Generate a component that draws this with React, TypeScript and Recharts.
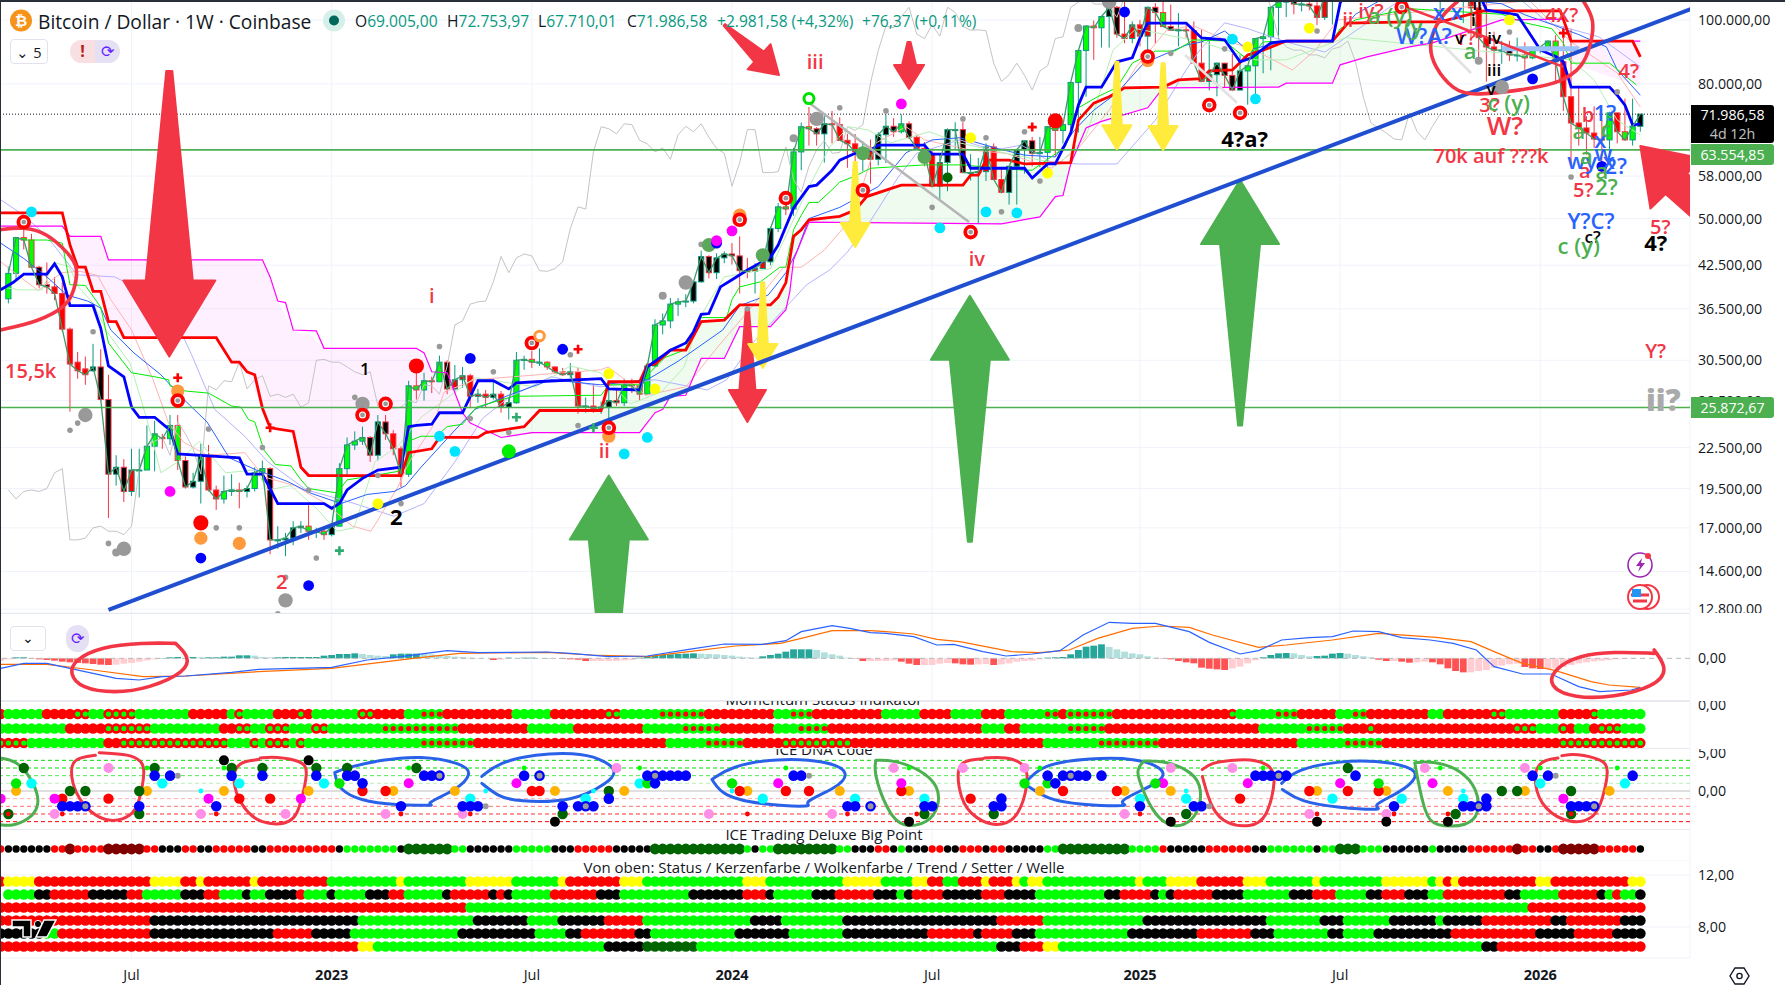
import React from 'react';
import {
  ComposedChart,
  Bar,
  Line,
  Area,
  Scatter,
  XAxis,
  YAxis,
  CartesianGrid,
  ReferenceLine
} from 'recharts';

// weekly candles in thousand dollars, index 0 is the week of 14 Mar 2022
const opens = [37.8,41.3,46.8,46.4,42.2,39.7,39.4,38.5,34.0,30.3,29.6,29.4,29.8,26.6,20.5,21.0,19.3,20.8,20.8,22.6,23.3,23.2,24.3,21.5,19.6,20.0,21.8,19.4,18.8,19.3,19.4,19.3,19.5,20.6,20.9,16.3,16.3,16.4,17.0,17.1,16.8,16.8,16.6,17.1,20.9,22.7,23.0,23.3,21.9,24.6,23.6,22.4,20.5,27.9,27.5,28.4,28.3,30.3,27.6,28.5,28.9,26.9,27.1,26.8,27.1,25.9,26.3,30.5,30.6,30.3,30.3,29.8,29.3,29.0,29.3,26.0,26.0,25.8,25.9,26.5,26.3,28.0,27.9,27.1,29.9,34.5,35.0,37.1,37.4,37.5,40.1,43.8,41.4,43.6,44.2,43.9,41.7,41.6,42.0,43.0,48.3,52.1,51.7,63.1,68.9,68.4,67.2,69.6,69.4,65.7,64.9,63.1,64.0,61.5,67.0,69.0,67.7,69.6,66.4,63.9,62.8,56.0,60.8,68.2,68.2,58.7,58.7,58.9,64.2,57.3,54.8,60.0,63.6,65.6,62.8,63.0,68.9,68.0,69.4,80.4,89.9,97.9,97.3,101.2,104.5,95.2,93.7,98.3,94.5,104.5,102.6,97.7,96.5,96.6,96.3,86.0,80.7,82.6,86.0,82.4,78.3,83.7,85.2,93.7,94.3,104.5,106.4,109.0,105.7,105.7,105.0,100.9,108.3,109.0,119.0,117.3,117.8,119.3,114.0,119.0,117.4,113.5,108.3,111.0,115.9,115.3,109.6,123.5,115.0,108.6,114.5,104.3,94.0,91.0,90.0,90.0,88.5,88.5,87.6,90.4,91.0,92.9,86.4,76.5,69.8,68.6,67.4,66.0,65.8,72.3,67.7,65.8,69.0];
const closes = [41.3,46.8,46.4,42.2,39.7,39.4,38.5,34.0,30.1,29.4,29.0,29.8,26.6,20.5,21.0,19.3,20.8,20.8,22.6,23.6,23.2,24.3,21.5,19.6,20.0,21.8,19.4,18.8,19.3,19.4,19.3,19.5,20.6,20.9,16.3,16.3,16.4,17.0,17.1,16.8,16.8,16.6,17.1,20.9,22.7,23.0,23.3,21.9,24.6,23.6,22.4,20.5,27.9,27.5,28.4,28.3,30.3,27.6,28.5,28.9,26.9,27.1,26.8,27.1,25.9,26.3,30.5,30.6,30.3,30.3,29.8,29.3,29.0,29.3,26.0,26.0,25.8,25.9,26.5,26.3,28.0,27.9,27.1,29.9,34.5,35.0,37.1,37.4,37.5,40.1,43.8,41.4,43.6,44.2,43.9,41.7,41.6,42.0,43.0,48.3,52.1,51.7,63.1,68.9,68.4,67.2,69.6,69.4,65.7,64.9,63.1,64.0,61.5,67.0,69.0,67.7,69.6,66.4,63.9,62.8,56.0,60.8,68.2,68.2,58.7,58.7,58.9,64.2,57.3,54.8,60.0,63.6,65.6,62.8,63.0,68.9,68.0,69.4,80.4,89.9,97.9,97.3,101.2,104.5,95.2,93.7,98.3,94.5,104.5,102.6,97.7,96.5,96.6,96.3,86.0,80.7,82.6,86.0,82.4,78.3,83.7,85.2,93.7,94.3,104.5,106.4,109.0,105.7,105.7,105.0,100.9,108.3,109.0,119.0,117.3,117.8,119.3,114.0,119.0,117.4,113.5,108.3,111.0,115.9,115.3,109.6,123.5,115.0,108.6,114.5,104.3,94.0,91.0,90.0,90.0,88.5,88.5,87.6,90.4,91.0,92.9,86.4,76.5,69.8,68.6,67.4,66.0,65.8,72.3,67.7,65.8,69.0,71.99];
const highs = [42.3,46.9,48.2,47.4,42.4,42.9,40.8,40.0,34.2,31.4,30.9,32.3,31.7,29.0,21.9,21.6,22.4,22.4,24.3,24.7,23.6,25.2,25.2,21.8,20.6,22.8,22.7,19.7,20.4,20.5,19.9,19.7,21.0,21.5,21.0,17.1,16.7,17.4,17.4,18.4,17.0,16.9,17.2,21.3,23.3,23.8,24.2,23.4,25.2,25.2,23.9,22.6,28.4,29.2,29.2,28.8,31.0,30.5,30.0,29.8,29.1,27.6,27.5,28.4,27.4,26.8,31.4,31.0,31.5,31.8,30.4,29.9,29.7,30.2,29.7,26.8,28.1,26.4,27.5,27.5,28.6,28.6,28.3,30.2,35.2,35.9,37.9,37.9,38.4,40.2,44.7,44.0,44.3,44.6,45.9,47.0,43.6,42.8,43.8,48.6,52.8,52.9,64.0,69.9,73.8,68.8,71.8,72.8,71.2,67.2,67.2,65.5,65.9,67.6,71.9,71.0,71.9,70.2,67.0,65.3,63.5,62.8,68.5,70.0,70.0,62.6,61.8,65.0,65.0,59.8,58.2,60.7,64.5,66.5,66.5,64.5,69.4,70.0,73.5,81.5,93.4,99.8,98.5,104.0,105.0,108.3,99.5,99.9,102.7,106.0,109.5,105.5,102.4,98.8,99.5,96.8,94.0,84.5,85.4,88.8,88.5,84.0,83.7,86.5,95.0,95.6,104.8,107.0,110.0,108.0,106.5,108.5,106.0,108.5,110.0,120.0,120.0,119.7,120.0,119.5,124.0,118.0,114.0,113.3,113.5,116.5,117.9,113.0,126.2,116.0,114.0,116.0,108.0,96.0,93.0,93.0,94.0,92.5,90.0,90.2,91.5,94.8,97.8,97.0,79.5,71.5,74.0,70.5,72.0,66.8,76.0,76.0,71.5,70.0,72.75];
const lows = [37.2,40.5,44.9,42.1,39.2,38.5,37.6,33.7,25.5,28.6,28.0,29.3,26.5,17.6,19.7,18.6,19.0,18.9,20.8,20.7,22.4,22.7,20.8,19.5,19.5,18.5,19.3,18.1,18.5,19.0,18.2,18.9,19.3,20.0,15.5,15.8,15.4,16.0,16.7,16.3,16.4,16.3,16.5,17.1,20.4,22.3,22.7,21.4,21.5,23.1,21.9,19.6,20.3,26.6,26.5,27.2,28.3,27.1,27.2,27.7,25.8,26.3,25.9,26.6,25.4,24.8,26.2,29.5,29.7,29.9,29.5,29.1,28.9,28.7,25.3,25.4,25.4,25.3,24.9,26.0,26.0,27.2,26.5,27.1,29.8,33.4,34.1,35.6,36.7,37.2,40.0,40.6,40.5,42.8,42.6,38.5,40.6,38.5,41.9,42.5,47.7,50.6,50.5,59.2,64.5,64.5,60.8,65.0,67.4,59.7,60.5,59.0,56.5,60.2,60.7,66.5,67.3,66.0,64.0,60.0,58.5,53.5,55.0,63.5,65.5,57.1,49.1,57.0,57.8,57.0,52.5,52.5,58.5,60.0,59.8,58.9,62.0,65.0,66.8,67.5,76.5,87.0,90.8,90.8,94.0,92.2,92.2,91.2,89.2,92.0,98.0,97.7,91.2,94.0,93.3,94.8,78.2,76.6,79.0,82.0,81.7,74.4,74.6,83.0,83.9,93.6,101.0,102.0,103.0,103.4,98.2,100.0,98.4,107.0,116.0,114.6,112.0,112.0,107.3,110.5,107.3,107.3,107.5,107.5,111.5,108.7,102.0,106.5,105.5,98.9,93.0,86.0,80.6,84.0,85.8,86.6,86.5,84.0,87.2,89.0,91.0,80.0,72.8,60.0,64.5,62.5,64.0,58.5,62.5,65.0,65.7,64.5,67.71];

// colour runs, [first week, colour], each run ends where the next starts
const candleColorRuns = [[0,'G'],[1,'G'],[4,'K'],[6,'R'],[11,'K'],[16,'R'],[18,'G'],[23,'K'],[26,'R'],[28,'G'],[31,'K'],[32,'G'],[34,'K'],[38,'R'],[39,'G'],[42,'K'],[43,'G'],[47,'K'],[50,'R'],[52,'G'],[57,'K'],[58,'R'],[63,'K'],[64,'R'],[65,'K'],[66,'G'],[71,'R'],[77,'K'],[80,'G'],[89,'K'],[96,'R'],[99,'K'],[100,'G'],[105,'K'],[108,'R'],[113,'K'],[116,'G'],[117,'K'],[118,'R'],[122,'K'],[127,'R'],[130,'K'],[134,'G'],[143,'K'],[145,'R'],[149,'K'],[150,'G'],[151,'K'],[152,'R'],[157,'K'],[161,'G'],[167,'K'],[170,'R'],[173,'G'],[177,'K'],[179,'R'],[182,'K'],[185,'G'],[187,'R'],[195,'K'],[197,'G'],[202,'R'],[207,'K'],[208,'G'],[209,'R'],[210,'G'],[212,'K']];
const statusRuns = [[-1,'R'],[0,'G'],[5,'R'],[9,'a'],[11,'G'],[13,'a'],[17,'G'],[24,'R'],[29,'G'],[30,'a'],[31,'G'],[35,'R'],[38,'a'],[39,'R'],[40,'G'],[46,'a'],[48,'R'],[52,'G'],[54,'b'],[57,'R'],[66,'G'],[71,'R'],[78,'a'],[80,'G'],[85,'b'],[91,'R'],[100,'G'],[102,'b'],[105,'R'],[114,'G'],[119,'R'],[123,'G'],[127,'R'],[130,'G'],[135,'b'],[137,'R'],[138,'b'],[144,'R'],[159,'a'],[160,'G'],[165,'b'],[168,'R'],[173,'G'],[175,'b'],[177,'R'],[185,'G'],[187,'R'],[193,'a'],[195,'G'],[202,'R'],[206,'a'],[207,'G']];
const momentumRuns = [[-1,'G'],[8,'R'],[13,'a'],[19,'G'],[28,'R'],[30,'a'],[32,'G'],[34,'a'],[37,'G'],[40,'a'],[42,'G'],[49,'b'],[59,'R'],[68,'G'],[74,'R'],[83,'G'],[88,'b'],[93,'R'],[100,'G'],[103,'b'],[107,'R'],[127,'G'],[130,'R'],[132,'G'],[138,'b'],[143,'R'],[163,'G'],[169,'b'],[174,'R'],[177,'a'],[178,'R'],[196,'a'],[199,'G'],[202,'a'],[203,'R'],[204,'G'],[206,'R'],[207,'a'],[210,'G']];
const trendRuns3 = [[-1,'a'],[3,'G'],[13,'R'],[15,'a'],[29,'G'],[32,'a'],[33,'G'],[34,'a'],[37,'G'],[38,'a'],[39,'G'],[54,'b'],[61,'R'],[86,'G'],[91,'b'],[96,'R'],[101,'a'],[110,'R'],[135,'G'],[142,'b'],[150,'R'],[168,'G'],[174,'b'],[179,'R'],[202,'a']];
const bigPointRuns = [[-1,'R'],[0,'K'],[6,'R'],[8,'M'],[9,'R'],[13,'M'],[18,'R'],[20,'K'],[23,'R'],[25,'K'],[27,'R'],[32,'K'],[34,'R'],[43,'K'],[44,'G'],[51,'K'],[52,'D'],[58,'G'],[60,'K'],[66,'G'],[71,'K'],[74,'R'],[79,'K'],[84,'D'],[96,'G'],[97,'K'],[98,'G'],[100,'D'],[108,'G'],[110,'K'],[113,'R'],[115,'K'],[116,'G'],[117,'K'],[120,'R'],[122,'K'],[124,'R'],[127,'K'],[128,'R'],[130,'K'],[135,'G'],[137,'D'],[146,'G'],[150,'R'],[151,'K'],[156,'R'],[162,'K'],[164,'G'],[170,'K'],[171,'G'],[173,'D'],[176,'G'],[179,'K'],[185,'G'],[186,'K'],[190,'R'],[196,'M'],[197,'R'],[199,'K'],[201,'R'],[202,'M'],[207,'R'],[212,'K']];
const lowerRow1 = [[-1,'R'],[0,'Y'],[4,'R'],[19,'Y'],[23,'R'],[25,'Y'],[26,'R'],[32,'Y'],[33,'R'],[42,'G'],[51,'Y'],[52,'G'],[60,'Y'],[66,'G'],[72,'Y'],[73,'R'],[80,'Y'],[83,'G'],[96,'Y'],[99,'G'],[109,'Y'],[114,'G'],[118,'Y'],[120,'R'],[122,'G'],[124,'R'],[127,'Y'],[128,'R'],[131,'Y'],[132,'G'],[133,'Y'],[135,'G'],[147,'Y'],[148,'G'],[151,'Y'],[155,'R'],[161,'Y'],[164,'G'],[170,'Y'],[171,'G'],[179,'Y'],[185,'G'],[186,'Y'],[187,'R'],[188,'Y'],[189,'R'],[199,'Y'],[201,'R'],[211,'Y']];
const lowerRow3 = [[-1,'R'],[60,'G'],[198,'R']];
const lowerRow4 = [[-1,'R'],[19,'K'],[46,'G'],[61,'K'],[68,'G'],[72,'K'],[78,'R'],[83,'G'],[97,'K'],[101,'G'],[109,'K'],[129,'R'],[135,'G'],[148,'K'],[164,'G'],[171,'K'],[174,'G'],[180,'K'],[186,'G'],[187,'K'],[192,'R'],[201,'K'],[203,'R'],[210,'K']];
const lowerRow5 = [[-1,'K'],[5,'G'],[7,'R'],[19,'K'],[35,'R'],[40,'K'],[45,'G'],[59,'K'],[69,'G'],[73,'K'],[75,'R'],[82,'K'],[84,'G'],[95,'K'],[102,'G'],[109,'K'],[120,'R'],[126,'K'],[127,'R'],[131,'K'],[134,'G'],[146,'K'],[155,'R'],[162,'K'],[165,'G'],[172,'K'],[174,'G'],[178,'K'],[188,'R'],[199,'K'],[204,'R'],[209,'K']];
const lowerRow6 = [[-1,'R'],[46,'Y'],[48,'G'],[78,'K'],[83,'D'],[90,'G'],[129,'K'],[132,'R'],[135,'Y'],[137,'G'],[192,'K'],[194,'R']];

// indicator vertices as [week, price in thousands]
const tenkan = [[-1,39],[0.6,40],[2,41.2],[5,41.2],[6,42.7],[7,40.8],[8,36.9],[11,36.9],[12,34.1],[13,29.9],[15,28.8],[16,25.9],[17,25],[19,25],[21,23.9],[22,22],[30,21.7],[31,20.5],[33,20.5],[35,18.5],[41,18.5],[42,18.2],[43,18.5],[44,19.4],[46,20.2],[48,20.8],[51,21],[52,24.2],[53,24.3],[55,24.4],[56,25.4],[59,25.4],[60,26.9],[61,28.4],[63,28.4],[65,27.6],[66,28.2],[68.5,28.3],[77,28.6],[78,27.6],[82,27.5],[83,29.8],[86,31.6],[88,32.4],[89,33.7],[90,35.8],[91,35.9],[92.5,39.4],[94,40.4],[96,41.8],[99,43.7],[100,45.6],[102,51.9],[104,55.9],[105,56.2],[107,59.2],[108,61.3],[110,62.8],[112,63.5],[113,64.6],[119,64.6],[120,62.6],[124,62.6],[125,59.6],[132,59.6],[133,57.6],[135,60.5],[136,60.5],[138,67.4],[139,74.3],[140,79.1],[142,79.1],[144,86.4],[146,87.6],[147,93.9],[148,98.9],[153,98.9],[155,93.9],[158,93.3],[160,86.4],[161.5,87.6],[164,92.3],[166,92.9],[172,92.9],[173,106],[175,120],[190,118],[191,110],[192,103.5],[196,101.8],[198,93.9],[199,90.1],[200,89],[201,88],[202,86.4],[203,79.1],[208,79.1],[209,76.9],[210,74.3],[211,69.3],[212,69.6]];
const kijun = [[-1,51],[7,51],[8,45.6],[9,42.2],[10,42.2],[11,38.8],[12,38.8],[13,34.9],[14,34.9],[15,33],[27,33],[29,30.3],[30,30.3],[31,29.3],[32,29],[33,25.8],[34,24.1],[37,23.8],[38,21],[39,20.4],[51,20.4],[52,22.1],[55,22.4],[56,23.3],[61,23.3],[62,23.7],[67,24.2],[69,25.6],[77,25.6],[78,28.3],[82,28.3],[83,30],[84,30.1],[86,31.6],[88,31.6],[90,34.9],[93,35.1],[95,37],[99,37],[100,38],[101,40],[102,47],[103,48.1],[104,49.8],[108,50.4],[110,51.5],[111.5,54],[115,55.7],[116,56.2],[124,56.2],[125,58.2],[126,58.2],[127,61.3],[130,61.3],[132,60.5],[138,60.8],[139,70.5],[141,74.8],[143,76.5],[145,78.9],[150,79.1],[152,81.1],[155,81.5],[156,83.7],[159,84],[161,88.5],[163,90],[166,92.9],[172,92.9],[174,98.9],[182,99.3],[186,99.3],[191.6,103.2],[201.6,103.2],[203,92.9],[211,92.9],[212,87.9]];
const senkouB = [[-1,48.7],[7,48.7],[8,47],[12,47],[13,43.3],[33,43.3],[34,40.8],[35,37.5],[36,37.3],[37,33.9],[40,33.8],[41,31.8],[53,31.8],[54,31.3],[55,29.3],[57,29.2],[59,25.4],[60,24.5],[62,23.9],[64,23.3],[68,23.7],[82,23.7],[84,25.4],[85,25.7],[86,26.9],[88,27],[90,30.7],[93,30.7],[95,34.3],[99,34.3],[101,36.4],[101.5,38.7],[102,43.3],[104,49.4],[129,49.1],[134,50.3],[136,54],[137,54.2],[138,60.5],[140,68.6],[142,70.2],[148,73.6],[150,78.9],[165,79.1],[166,80.2],[172,80.2],[173,85.5],[176.5,87.9],[182,91],[185,92.3],[194,100],[202,100.3],[203,92.9],[212,92.9]];
const greenLine = [[2,46.4],[5,46.4],[7,45.9],[8,39.7],[10,39.6],[12,36.7],[13,32.4],[16,29.2],[19,28.8],[20.8,28.5],[21,27.9],[23,27.4],[26,27.2],[29,26],[30.2,25.9],[31.2,24.8],[32,24.6],[33.2,22.3],[34.7,21.2],[36.7,21.1],[38,20.1],[39,19.5],[42.7,19.2],[44,20.1],[46.4,20.3],[50.6,20.7],[52,23],[53.6,23.4],[55.6,23.4],[57,24.2],[59,24.4],[60.8,25.9],[65.6,26.9],[77,27],[78,28],[82,28],[83.3,29.2],[85.3,30.8],[87.8,31.6],[90,35.4],[93.3,35.4],[94,37.7],[95,39.4],[97.7,40.1],[100.2,42.2],[101,42.2],[102,48.1],[103,50.6],[104,52.9],[105.2,52.9],[107,55.3],[108,56.8],[110,58],[112,59.6],[119,60.3],[124,60.3],[128.6,59.6],[132,59.2],[133,59.2],[137.3,64.2],[139,73.6],[141.5,76.5],[144,79],[146,86],[149,89.7],[151.5,89.7],[154,93.3],[158,92.9],[161,87],[163,92.6],[166,92.9],[172,92.9],[173,97],[175,100],[182,104],[194,102],[197,99],[200.5,97],[202,92.2],[203,86],[208,86],[211.5,79.7]];
const thinBlue = [[-1,45.9],[2,43.5],[5,40.8],[7.6,38.3],[10.3,37.5],[12,36.6],[13.3,33.9],[16.3,31.3],[19.8,29],[22.8,26.6],[25.8,24.6],[28.7,21.7],[32.2,20.8],[36.2,20],[39.2,19.2],[43.2,18.5],[46.6,19.1],[50.1,19.3],[51.6,19.7],[53.6,21],[58,23.9],[60.6,25.7],[65,27],[70.5,28.5],[76.9,28],[83,28.5],[87,30.4],[92.8,33.9],[95,36.9],[98.7,38.3],[101,41.4],[102.5,44.8],[104,50],[108,52],[113,55.9],[116.6,62.9],[120,65.8],[123.6,66.3],[128.6,63.8],[132,62.4],[136,62],[138.5,68.1],[141,73],[144,77.5],[147.5,86],[153,91.6],[155,92.6],[158,96.2],[161,90],[166,92.9],[172,92.9],[175,102],[180,110],[194,105.8],[197,101.8],[201,98],[204,95],[207.6,91],[209,84],[212,76.9]];
const periwinkle = [[-1,53.4],[2,50.6],[5,47],[8.9,41.1],[13.8,40.8],[15.3,40],[18.8,37],[22.3,33.9],[23.8,31.1],[26.8,25.7],[30.7,23.4],[33.7,21.4],[38.7,19.4],[43.7,18.7],[50.1,17.7],[54,18.5],[58,21.4],[61.6,24.9],[65,26.8],[70.5,28.8],[76.9,27.8],[84,28.5],[90.8,27.5],[93.3,28.5],[96.7,32.4],[100.7,36.4],[103.7,39.7],[106.7,41.8],[109,44.5],[111.7,49],[115.6,57.8],[118,62.8],[123.6,65.8],[128,63.5],[131.6,64.6],[135.5,60.9],[139,60.5],[144,60.5],[149,70.5],[153,84],[154.8,90.1],[158,99],[161,97],[166,92.6],[171,89.4],[175.2,96.6],[180.7,107],[196.6,107],[200,99],[206.6,94.3],[212,84.9]];
const paleRed = [[-1,43],[2,40.4],[3.9,38.9],[6.9,41.4],[9.3,41.6],[11.6,41],[13.3,37.7],[16,33.9],[18.8,28.5],[20.8,24.5],[22.8,22.9],[25.8,21.9],[30.7,22.1],[33.2,20.3],[37.2,19.7],[41.2,18.5],[44.7,17.1],[47.1,16.8],[50.6,19.6],[52.1,21.4],[55.1,24.2],[56.6,27.3],[60.6,28.5],[76.9,29.5],[77.9,29.8],[82.8,27],[88,27.8],[91.8,31.6],[96.7,36.9],[100.7,42.2],[103,42.2],[106,44.8],[109.7,50.3],[112.7,65.1],[116.6,68.9],[119,65.8],[125,63.5],[129.6,62.8],[135.5,59.6],[139,63.9],[143,73],[146.5,84.9],[150.5,96.6],[154,98],[158,93.3],[161.8,90.1],[166.8,84],[169.8,90.1],[172.7,100],[197.6,107],[203,92.6],[209,83.1],[212,73.8]];
const paleGreen = [[-1,39.4],[1.4,39],[4.4,39],[5.9,42.9],[7.9,42.3],[9.1,39.4],[11,37.2],[12.8,33.7],[15.8,30.2],[18,24.8],[19.8,20.6],[22.3,21.5],[24.8,23],[28.2,20.6],[32.2,20.8],[33.7,19.4],[36.7,19.7],[40.2,18.1],[42.7,16.8],[44.9,17],[47.6,21.4],[50.6,22.6],[53.6,25],[60.6,28.7],[68.5,27.8],[73,29.9],[76.9,29.2],[80.8,26.2],[84.8,27.3],[87.8,29.8],[89.8,35.4],[93,40.8],[99,42],[104,55.9],[106.7,64.2],[109.2,68.9],[111.7,68.1],[114.6,65.1],[119.6,67.7],[123.6,65.1],[129.6,62.8],[136.5,60.5],[140,66.6],[143.5,90],[146.5,97],[155,92.6],[162,87],[166,87],[173.7,94],[203,87],[206,81.1],[209,70.5],[212,66.9]];

// cloud fill vertices as [week, upper, lower]
const cloudPink = [[8,47,45.6],[9,47,42.2],[11,47,38.8],[12,47,38.8],[13,43.3,34.9],[14,43.3,34.9],[15,43.3,33],[27,43.3,33],[29,43.3,30.3],[31,43.3,29.3],[33,43.3,25.8],[34,40.8,24.1],[35,37.5,24],[37,33.9,23.8],[38,33.5,21],[39,33.5,20.4],[41,31.8,20.4],[51,31.8,20.4],[52,31.8,22.1],[53,31.8,22.2],[55,29.3,22.4],[56,29.3,23.3],[57,29.2,23.3],[59,25.4,23.3],[60,24.5,23.4],[61,23.6,23.4]];
const cloudPinkEnd = [[203,92.9,86],[208,92.9,82],[212,92.9,79.7]];
const cloudGreen = [[61,23.4,23.4],[62,23.7,23.9],[64,23.9,23.3],[67,24.2,23.5],[69,25.6,23.7],[77,25.6,23.7],[78,28.3,23.7],[82,28.3,23.7],[83,30,24.5],[84,30.1,25.4],[86,31.6,26.9],[88,31.6,27],[90,34.9,30.7],[93,35.1,30.7],[95,37,34.3],[99,37,34.3],[100,38,35.4],[101,40,36.4],[102,47,43.3],[103,48.1,46.2],[104,49.8,49.4],[108,50.4,49.3],[110,51.5,49.3],[111.5,54,49.3],[115,55.7,49.3],[116,56.2,49.3],[124,56.2,49.2],[125,58.2,49.2],[127,61.3,49.1],[129,61.3,49.1],[130,61.3,49.4],[132,60.5,49.8],[134,60.6,50.3],[136,60.7,54],[137,60.8,54.2],[138,60.8,60.5],[139,70.5,64],[140,72.5,68.6],[141,74.8,69.4],[142,75.5,70.2],[143,76.5,70.8],[145,78.9,71.9],[148,79,73.6],[150,79.1,78.9],[152,81.1,79],[155,81.5,79],[156,83.7,79],[159,84,79],[161,88.5,79],[163,90,79],[165,92,79.1],[166,92.9,80.2],[172,92.9,80.2],[173,96,85.5],[174,98.9,86],[176.5,99,87.9],[182,99.3,91],[185,99.3,92.3],[191.6,103.2,97.5],[194,103.2,100],[201.6,103.2,100.3]];

// MACD pane, values are in the pane's own units
const macdLine = [[-1,-30],[2,-15],[5,-15],[8,-30],[11,-45],[14,-60],[17,-65],[20,-55],[23,-53],[29,-42],[32.5,-33],[42,-27],[46.6,-5],[51,5],[57,23],[61,17],[70,19],[73,15],[78,5],[83,7],[88.4,27],[93,43],[98,42],[101,53],[103,80],[107,98],[109.3,90],[112,77],[114,75],[117.6,65],[120.6,40],[122.8,42],[126.6,20],[129.6,7],[133,13],[136.6,23],[139.6,70],[143,108],[146,105],[149,105],[153.4,80],[156,48],[160,13],[162.4,23],[165.4,55],[169,62],[172,65],[174.7,82],[178,80],[181,62],[184.7,55],[187.7,45],[190.7,25],[193,-25],[196.7,-47],[200.4,-47],[204,-85],[206.7,-100],[210.8,-95],[212,-88]];
const macdSignal = [[-1,-18],[5,-18],[11,-35],[17.5,-55],[23,-53],[32.5,-40],[42,-30],[52.6,0],[58.6,15],[70,18],[75.7,10],[83,5],[88.4,20],[94.4,37],[100.3,45],[103,60],[107,83],[112,83],[114,80],[117.6,73],[120.6,57],[123.6,50],[130.3,20],[134,17],[137.8,25],[141.5,60],[146,90],[149.7,97],[153.4,93],[156.4,70],[162.4,33],[166,40],[172,55],[178,75],[185.5,63],[190,50],[193,20],[196.7,-15],[201,-37],[205.6,-70],[207.9,-80],[212,-87]];
const macdHist = [-8,-3,3,3,-1,-3,-5,-7,-10,-12,-14,-15,-17,-19,-20,-19,-16,-14,-10,-6,-3,1,3,4,1,4,3,3,3,5,5,9,9,8,4,3,3,4,4,4,4,4,8,10,13,13,15,13,10,8,7,12,14,14,14,13,12,10,7,5,4,2,1,0,-5,-4,2,1,2,2,1,1,0,-2,-3,-4,-8,-8,-8,-8,-8,-6,-5,2,4,7,10,12,13,14,15,14,13,12,10,8,5,3,2,6,10,14,20,27,27,27,25,18,12,8,2,-1,-8,-8,-8,-8,-6,-10,-16,-20,-20,-20,-16,-14,-15,-18,-19,-18,-17,-20,-18,-15,-10,-8,-7,-3,2,3,4,12,25,35,38,42,34,27,20,15,12,6,2,-1,-3,-8,-12,-15,-28,-31,-33,-35,-30,-25,-15,-6,3,10,15,16,15,10,6,7,8,14,16,14,10,6,3,-4,-8,-8,-10,-13,-12,-10,-12,-18,-30,-38,-42,-42,-38,-35,-28,-22,-18,-16,-26,-30,-32,-32,-30,-26,-20,-15,-12,-9,-7,-5,-3,-2,-1];

// price pane markers as [week, price in thousands]
const smallGray = [[9,24.5],[8,23.9],[11,33.7],[26,24],[27,17],[30,17],[13,16.1],[33,22.5],[39,19.4],[40,15.3],[36,14.3],[35,12.6],[51,18.5],[48,20.4],[45,26.8],[56,32],[60,24.9],[63,29.3],[65,23.7],[69,32.8],[73,31.1],[74,24.3],[90,45.7],[108,73.6],[114,72.8],[120,52],[129,51.2],[134,57],[124,70.8],[127,66.3],[132,67.7],[151,89],[158,90.4],[170,96.2],[195,95.9],[193,78.7],[209,77.8],[203,57.8],[96,36.5]];
const midGray = [[85,38.2],[102,66.2],[139,97.2],[14,15.6],[191,86.7]];
const bigGray = [[10,25.2],[15,15.8],[36,13.2],[46,26.2],[88,40],[105,70.8],[143,106.5],[194,79.1]];
const ringRed = [[2,49.4],[22,26.5],[46,25.2],[49,26.2],[68,32.4],[78,24.1],[95,49.8],[101,53.7],[111,55.2],[125,47.7],[156,74.3],[160,72.3],[181,104.6],[148,88]];
const ringOrange = [[69,33.2]];
const ringLime = [[104,76]];
const dotRed = [[25,17.3],[53,29.9],[136,70.3]];
const dotOrange = [[22,27.4],[25,16.4],[30,16.1],[95,50.6],[148,86.8],[78,23.4]];
const dotBlue = [[25,15.3],[39,13.9],[60,30.7],[72,31.7],[92,45.9],[145,102.8],[198,81.4],[207,60]];
const dotCyan = [[3,51.2],[56,23.4],[58,22.2],[80,22],[83,23.3],[121,48.4],[127,51.2],[131,51],[159,93.5],[162,75.9]];
const dotMagenta = [[21,19.3],[92,46.3],[94,47.9],[116,74.6]];
const dotYellow = [[48,18.5],[78,29.1],[84,27.6],[125,66.3],[135,58.6],[161,91],[169,97.2],[195,100]];
const dotLime = [[65,22.2]];
const dotDark = [[122,57.7]];
const dotSage = [[111,62.8],[98,44],[91,45.6],[119,62]];
const plusRed = [[22,28.7],[34,24.1],[74,31.7],[133,68.8],[202,95.5]];
const plusGreen = [[43,15.7],[66,25],[76,24.1]];

// hand drawn marks on the price pane
const bigRedLoop = [[204.6,106.8],[206.1,100],[205.6,92],[204.6,84.9],[201.6,80.2],[196.6,78.3],[190.1,76.7],[187.7,78.3],[185.2,84.9],[184.4,92],[185.9,101],[188.2,106.5]];
const leftRedLoop = [[-1.1,48.1],[1.9,48.6],[5,47.6],[7.9,44.2],[9.1,42.2],[8.6,39],[7.6,36.8],[3.9,34.9],[-1,33.9]];
const handLine = [[180.7,105.4],[187.7,98.3],[202,84.9]];
const grayLine = [[104,74.9],[124.8,49.4]];
const fadedLines = [[[152.85,88.5],[159.6,74.9]],[[186,92.6],[190,83.1]]];
const blueBand = [[194,90.4],[204,90.4]];
const trendLine = [[13,12.77],[219,104.3]];

// arrows as tail and tip, [week, price in thousands]
const redArrows = [[[20.9,83.7],[20.9,30.9]],[[93,98.3],[100.1,82.5]],[[117,92.6],[117,78.6]],[[96,36.6],[96,24.6]],[[225,44.8],[212,64.4]]];
const yellowArrows = [[[110,60.9],[110,45.3]],[[98,40],[98,29.7]],[[144,86.4],[144,63.7]],[[150,86],[150,63.5]]];
const greenArrows = [[[124.9,16.2],[124.9,38.2]],[[78,8.4],[78,20.4]],[[160,24.3],[160,57.2]]];

// wave labels as [week, price in thousands, text]
const redNotes = [[2.9,29.4,'15,5k'],[55,38.3,'i'],[77.4,22.3,'ii'],[104.8,86.4,'iii'],[125.8,43.5,'iv'],[174,100,'ii'],[177,103.5,'iy?'],[189.5,94,'r?'],[201.8,101.8,'4X?'],[192.4,74.5,'3?'],[210.5,83.7,'4?'],[205.2,72,'b'],[204.8,59.2,'a'],[204.6,55.3,'5?'],[192.6,62.4,'70k auf ???k'],[214.6,48.7,'5?'],[214,31.6,'Y?'],[35.5,14.1,'2']];
const redNotesLarge = [[194.4,69.3,'W?']];
const blackNotes = [[46.3,29.6,'1'],[193,93.9,'iv'],[193,84,'iii'],[188.5,94,'v'],[192.6,78.7,'v'],[190.3,100,'i'],[190.8,106,'ii'],[205.8,46.9,'c?']];
const blackNotesLarge = [[50.4,17.7,'2'],[160.6,66.2,'4?a?'],[214,46.1,'4?']];
const blueNotes = [[183.9,95,'W?A?'],[187,103,'x x'],[205.6,49.8,'Y?C?'],[207.4,72.5,'1?'],[208.8,60.3,'2?'],[205.6,61.3,'wy x'],[206.8,66,'x'],[207.2,63,'w']];
const greenNotes = [[179.5,101.8,'a (y)'],[182.5,98,'(y'],[189.9,90,'a'],[194.9,75,'c (y)'],[204,45.6,'c (y)'],[207.6,56,'2?'],[207,59.2,'a'],[204,68,'a'],[205,62.5,'a'],[207.5,68.5,'c']];
const grayNotes = [[215,26.6,'ii?']];

// DNA pane dots as [week, level]
const dnaBlue = [[7,-2],[8,-2],[9,-2],[10,-2],[17,-2],[19,2],[21,2],[27,-2],[29,2],[33,2],[40,2],[44,2],[45,2],[46,1],[51,-2],[54,2],[55,2],[56,2],[59,-2],[60,-2],[61,-2],[67,2],[69,2],[72,-2],[74,-2],[75,-2],[76,-2],[78,-1],[83,2],[84,2],[85,2],[86,2],[87,2],[88,2],[84,1],[102,2],[103,2],[109,-2],[110,-2],[112,-2],[119,-2],[120,-2],[128,-2],[129,-1],[129,-2],[135,2],[137,2],[138,2],[139,2],[140,2],[136,1],[142,2],[147,-2],[154,-2],[155,-2],[162,2],[163,2],[164,2],[165,2],[166,2],[175,2],[180,-2],[189,-2],[190,-2],[191,-2],[192,-1],[192,-2],[198,2],[200,2],[203,-2],[204,-2],[205,-2],[206,-2],[211,2]];
const dnaDark = [[2,3],[0,-3],[8,0],[10,0],[17,0],[17,-3],[19,3],[29,3],[33,3],[40,3],[44,3],[53,3],[72,-3],[78,0],[119,-3],[128,-3],[153,-3],[174,3],[188,-3],[194,0],[196,0],[203,0],[203,-3]];
const dnaLime = [[1,1],[43,1],[94,1],[83,1],[132,1],[135,1],[149,1],[178,1]];
const dnaLimeSmall = [[18,3],[28,3],[52,3],[67,3],[82,3],[101,3],[117,3],[134,3],[163,3],[186,3],[199,3],[209,3]];
const dnaCyan = [[3,1],[20,1],[30,1],[41,1],[60,-1],[75,-1],[82,1],[98,-1],[110,-1],[119,-1],[147,-1],[153,-1],[172,-1],[181,-1],[189,-1],[199,1],[210,1]];
const dnaCyanSmall = [[25,0],[62,0],[76,0],[94,0],[153,0],[189,0]];
const dnaMagenta = [[-1,-1],[6,-1],[26,-1],[38,-1],[52,1],[66,1],[100,1],[116,1],[150,1],[161,1],[173,1],[185,1],[202,-1]];
const dnaPink = [[13,3],[6,-3],[25,-3],[36,-3],[49,-3],[59,-3],[79,3],[91,-3],[107,-3],[115,3],[124,3],[132,3],[145,-3],[151,3],[159,3],[169,-3],[179,-3],[184,3],[197,3]];
const dnaOrange = [[1,0],[18,0],[28,0],[39,0],[50,0],[58,0],[71,0],[80,0],[96,0],[108,0],[117,0],[134,0],[145,0],[151,0],[170,0],[179,0],[187,0],[197,0],[208,0]];
const dnaRed = [[7,-1],[13,-1],[30,-1],[34,-1],[46,0],[49,0],[68,0],[69,0],[95,0],[101,0],[104,0],[116,0],[125,-1],[137,0],[144,0],[160,-1],[169,0],[174,0],[178,0]];
const dnaRedSmall = [[0,-3],[7,-3],[27,-3],[51,-3],[60,-3],[96,-3],[109,-3],[118,-3],[147,-3],[170,-3],[180,-3],[187,-3],[203,-3]];
const dnaBlack = [[28,4],[39,4],[71,-4],[117,-4],[151,-4],[170,-4],[179,-4],[187,-4]];
const dnaGraySmall = [[10,-2],[22,2],[56,2],[62,-2],[69,2],[75,-2],[84,2],[104,2],[112,-2],[138,2],[156,-2],[165,2],[191,-2],[201,2],[206,-2]];

// hand drawn loops on the lower panes
const macdRedLoops = [
  [[21.7,45],[23.5,5],[23.1,-40],[18.3,-90],[13.8,-105],[9.4,-90],[7.9,-45],[8.6,-5],[12,35],[17.5,47],[21.7,45]],
  [[213.8,25],[215.7,-35],[213.8,-85],[208.6,-117],[203.4,-120],[200,-85],[200.8,-30],[204.1,10],[208.6,20],[213.8,15]]
];
const dnaRedLoops = [
  [[11.3,4.65],[8.6,4.3],[8,2.8],[8.6,-0.26],[10.6,-2.9],[13.3,-4.2],[16,-3.3],[17,-1.6],[17.8,2.8],[17.3,3.9],[15.8,4.8],[11.8,5]],
  [[32.5,4.1],[29.7,3.8],[29,1.5],[30.2,-2],[32.7,-4.4],[37,-4.4],[38,-1.6],[39,2.8],[38.2,3.9],[34.7,4.5],[32.7,4.3]],
  [[126.6,4.2],[124.1,4],[123.1,2.8],[123.8,-2],[126.6,-4.2],[129.1,-4.6],[131.3,-3.3],[132.5,1],[132.3,3.5],[129.6,4.5],[126.8,4.3]],
  [[155.1,2.8],[156.3,3.7],[158.8,4],[161.3,4.2],[163.8,3.5],[164.8,1.9],[163.5,-3.8],[161.3,-4.7],[158.3,-4.4],[156.3,-2.5],[155.1,1.9]],
  [[201.3,4.3],[198.6,3.9],[198.1,1],[199.4,-2.5],[203.1,-4.4],[206.1,-3.6],[207.1,-1.1],[208,3],[207.1,4.1],[203.6,4.9],[201.8,4.6]]
];
const dnaBlueLoops = [
  [[42.4,2.4],[43.7,3],[48.6,4.1],[53.6,4.6],[58.6,3.7],[60.5,2.4],[58.1,0],[53.6,-1.8],[56.3,-1.9],[48.6,-1.8],[44.7,-0.9],[42.7,0.6],[42.4,2.4]],
  [[61.5,1.9],[63.6,3.7],[68.5,4.8],[73.5,5],[76.9,4.3],[79.3,2.6],[77.8,1],[73.5,-1.4],[66,-1.4],[63.6,-0.7],[61.5,1]],
  [[91.4,1.5],[93.8,3.2],[99.7,4.3],[106.7,3.9],[109.4,2.4],[107.7,0.4],[102.7,-1.6],[105.2,-2.1],[97.7,-1.8],[92.8,-0.7],[91.4,1.5]],
  [[132.5,1.5],[134.5,3.5],[140.5,4.3],[146.5,4.3],[150,3],[150.2,1.7],[148,0.4],[143.5,-1.6],[146.5,-2],[139,-1.8],[135,-1.1],[132.5,0.6]],
  [[165.4,1],[167.3,2.8],[172.7,3.9],[177.7,4],[182.2,3.2],[183.3,1.9],[180.7,-0.3],[176.7,-2],[179.2,-2.5],[172.7,-2.2],[167.8,-1.4],[165.5,0.2]]
];
const dnaGreenLoops = [
  [[-1.1,4.3],[1.4,3.9],[3.6,0.6],[4.1,-2],[2.6,-3.8],[0.4,-4.6],[-1.1,-4.4]],
  [[112.7,4],[114.7,4.1],[118.6,2.8],[120.9,0.6],[120.9,-2],[119.6,-4.2],[116.1,-4.9],[114.1,-2.5],[112.4,2.4],[112.7,4]],
  [[147.5,3.9],[150.5,3.9],[154,2.4],[155.1,0.2],[154.6,-2.9],[152.85,-4.6],[150.5,-4.6],[148.5,-2.5],[147,1],[146.5,2.8],[147.5,3.9]],
  [[182.7,3.7],[185.2,3.9],[188.7,2.8],[190.9,0.2],[191.1,-2.9],[189.7,-4.6],[185.2,-4.7],[184,-2.9],[183,1.9],[182.7,3.7]]
];

const timeTicks = [16, 42, 68, 94, 120, 147, 173, 199];
const timeLabels = ['Jul', '2023', 'Jul', '2024', 'Jul', '2025', 'Jul', '2026'];
const priceTicks = [100, 80, 58, 50, 42.5, 36.5, 30.5, 26.5, 22.5, 19.5, 17, 14.6, 12.8];

const FONT = '"Open Sans", sans-serif';
const WIDTH = 1785;
const AXIS_W = 95;
const X_DOMAIN: [number, number] = [-1.091, 218.45];
const RED = '#f23645';
const GRID = '#f0f3fa';
const ROW_COLORS: any = { R: '#ff0000', G: '#00ff00', K: '#000000', Y: '#ffff00', D: '#006400', M: '#800000', a: '#ff0000', b: '#00ff00' };

const expandRuns = (runs: any[]) => {
  const out: any[] = [];
  runs.forEach((run, k) => {
    const end = k + 1 < runs.length ? runs[k + 1][0] : 213;
    for (let i = run[0]; i < end; i++) out.push({ i, c: run[1] });
  });
  return out;
};
const pts = (list: any[]) => list.map((d) => ({ i: d[0], p: d[1] }));
const band = (list: any[]) => list.map((d) => ({ i: d[0], hi: d[1], lo: d[2] }));
const notes = (list: any[]) => list.map((d) => ({ i: d[0], p: d[1], t: d[2] }));

const fills = expandRuns(candleColorRuns);
const candles = opens.map((o, i) => ({
  i,
  open: o,
  close: closes[i],
  high: Math.max(highs[i], o, closes[i]),
  low: Math.min(lows[i], o, closes[i]),
  fill: ROW_COLORS[fills[i] ? fills[i].c : 'G'],
  lagging: closes[i + 26] ?? null
}));
const histRows = macdHist.map((v, k) => {
  const prev = k > 0 ? macdHist[k - 1] : v;
  const color = v >= 0 ? (v >= prev ? '#26a69a' : '#b2dfdb') : (v < prev ? '#ff5252' : '#ffcdd2');
  return { i: k - 1, v, color };
});

const CandleShape = (p: any) => {
  const { x, y, width, height, payload: d } = p;
  if (!height && height !== 0) return null;
  const yAt = (v: number) => y + (height * Math.log(d.high / v)) / Math.log(d.high / d.low);
  const border = d.close >= d.open ? '#089981' : RED;
  const top = yAt(Math.max(d.open, d.close));
  const bottom = yAt(Math.min(d.open, d.close));
  const cx = x + width / 2;
  return (
    <g>
      <line x1={cx} x2={cx} y1={y} y2={y + height} stroke={border} strokeWidth={1} />
      <rect x={cx - 2.6} y={top} width={5.2} height={Math.max(bottom - top, 1)} fill={d.fill} stroke={border} strokeWidth={1} />
    </g>
  );
};

const HistShape = (p: any) => (
  <rect x={p.x + p.width / 2 - 3.4} y={Math.min(p.y, p.y + p.height)} width={6.8} height={Math.abs(p.height)} fill={p.payload.color} />
);

const arrowShape = (color: string, headLen: number, headW: number, neckW: number, tailW: number) => (p: any) => {
  const { x1, y1, x2, y2, clipPath } = p;
  const len = Math.hypot(x2 - x1, y2 - y1) || 1;
  const ux = (x2 - x1) / len;
  const uy = (y2 - y1) / len;
  const bx = x2 - ux * headLen;
  const by = y2 - uy * headLen;
  const side = (cx: number, cy: number, w: number, s: number) => `${cx - (uy * w * s) / 2},${cy + (ux * w * s) / 2}`;
  const points = [
    side(x1, y1, tailW, 1), side(bx, by, neckW, 1), side(bx, by, headW, 1), `${x2},${y2}`,
    side(bx, by, headW, -1), side(bx, by, neckW, -1), side(x1, y1, tailW, -1)
  ].join(' ');
  return <polygon points={points} fill={color} stroke={color} strokeWidth={2} strokeLinejoin="round" clipPath={clipPath} />;
};

const dot = (r: number, fill: string, stroke?: string, sw?: number, inner?: string, innerR?: number) => (p: any) => (
  <g>
    <circle cx={p.cx} cy={p.cy} r={r} fill={fill} stroke={stroke} strokeWidth={sw} />
    {inner ? <circle cx={p.cx} cy={p.cy} r={innerR} fill={inner} /> : null}
  </g>
);
const plus = (color: string) => (p: any) => (
  <path d={`M${p.cx - 4.5} ${p.cy}H${p.cx + 4.5}M${p.cx} ${p.cy - 4.5}V${p.cy + 4.5}`} stroke={color} strokeWidth={2.6} />
);
const noteShape = (color: string, size: number, weight: number) => (p: any) => (
  <text x={p.cx} y={p.cy} fill={color} fontSize={size} fontWeight={weight} fontFamily={FONT} textAnchor="middle" dominantBaseline="central">
    {p.payload.t}
  </text>
);
const rowShape = (r: number) => (p: any) => {
  const code = p.payload.c;
  return (
    <g>
      <circle cx={p.cx} cy={p.cy} r={r} fill={ROW_COLORS[code]} />
      {code === 'a' ? <circle cx={p.cx} cy={p.cy} r={2.6} fill="#00ff00" /> : null}
      {code === 'b' ? <circle cx={p.cx} cy={p.cy} r={2.6} fill="#ff0000" /> : null}
    </g>
  );
};
const bigPointShape = (p: any) => {
  const big = p.payload.c === 'M' || p.payload.c === 'D';
  return <circle cx={p.cx} cy={p.cy} r={big ? 5.4 : 3.7} fill={ROW_COLORS[p.payload.c]} />;
};

const TimeTick = (p: any) => {
  const label = timeLabels[timeTicks.indexOf(p.payload.value)];
  const year = label !== 'Jul';
  return (
    <text x={p.x} y={975} dy={-860 + 5} textAnchor="middle" fontSize={14.5} fontWeight={year ? 700 : 400} fontFamily={FONT} fill="#131722">
      {label}
    </text>
  );
};
const axisStyle = { fontSize: 14.2, fontFamily: FONT, fill: '#131722' };
const priceLabel = (v: number) => (v * 1000).toLocaleString('de-DE', { minimumFractionDigits: 2, maximumFractionDigits: 2 });

const priceMarks: [any[], any][] = [
  [smallGray, dot(2.8, '#999999')],
  [midGray, dot(4, '#999999')],
  [bigGray, dot(7.2, '#999999')],
  [dotSage, dot(7, '#5aa95a')],
  [dotOrange, dot(6.6, '#ff9a3c')],
  [dotRed, dot(7.6, '#ff0000')],
  [dotBlue, dot(5.4, '#0000ff')],
  [dotCyan, dot(5.4, '#00e5ff')],
  [dotMagenta, dot(5.4, '#ff00ff')],
  [dotYellow, dot(5.4, '#ffff00')],
  [dotLime, dot(7, '#00ee00')],
  [dotDark, dot(5, '#006400')],
  [ringRed, dot(5.4, '#ffffff', '#ff0000', 3.8, '#999999', 2.4)],
  [ringOrange, dot(4.8, '#ffffff', '#ff9a3c', 3)],
  [ringLime, dot(5, '#ffffff', '#00e000', 3)],
  [plusRed, plus('#ff0000')],
  [plusGreen, plus('#2eaa6e')]
];
const noteGroups: [any[], any][] = [
  [redNotes, noteShape(RED, 20, 600)],
  [redNotesLarge, noteShape(RED, 26, 600)],
  [blackNotes, noteShape('#000000', 17, 600)],
  [blackNotesLarge, noteShape('#000000', 22, 700)],
  [blueNotes, noteShape('#2962ff', 22, 600)],
  [greenNotes, noteShape('#4caf50', 22, 600)],
  [grayNotes, noteShape('#aaaaaa', 30, 800)]
];
const dnaMarks: [any[], any][] = [
  [dnaPink, dot(5, '#ff8fe6')],
  [dnaOrange, dot(5, '#ffb300')],
  [dnaRed, dot(5.2, '#ff0000')],
  [dnaMagenta, dot(5, '#ff00ff')],
  [dnaCyan, dot(5.2, '#00ffff')],
  [dnaLime, dot(5.2, '#00e800')],
  [dnaDark, dot(5.2, '#006400')],
  [dnaBlue, dot(5.3, '#0000ff')],
  [dnaBlack, dot(5, '#000000')],
  [dnaLimeSmall, dot(2.4, '#00ff00')],
  [dnaCyanSmall, dot(2.4, '#00ffff')],
  [dnaRedSmall, dot(2.4, '#ff0000')],
  [dnaGraySmall, dot(3, '#999999')]
];
const dnaLevels: [number, string][] = [[4, '#00e000'], [3, '#00e000'], [2, '#50e850'], [1, '#b8f0b8'], [0, '#c0c0c0'], [-1, '#ffb0b0'], [-2, '#ff7070'], [-3, '#ff3030'], [-4, '#ff0000']];

const thinLines: [any[], string, number][] = [
  [periwinkle, '#b3b3ff', 1],
  [paleRed, '#ffb3b3', 1],
  [paleGreen, '#b5f0b5', 1],
  [thinBlue, '#2962ff', 1],
  [greenLine, '#00ee00', 1],
  [senkouB, '#ff00ff', 1.2],
  [kijun, '#ff0000', 2.8],
  [tenkan, '#0000ff', 2.8]
];

const paneStyle = (top: number, height: number): React.CSSProperties => ({ position: 'absolute', left: 0, top, width: WIDTH, height, overflow: 'hidden' });
const overlayText = (y: number, text: string) => (
  <div style={{ position: 'absolute', left: 424, width: 800, top: y - 11, height: 22, lineHeight: '22px', textAlign: 'center', fontSize: 15, color: '#131722', fontFamily: FONT }}>{text}</div>
);

const Hairline = ({ y, h = 1, color = '#e8eaf0' }: any) => <div style={{ position: 'absolute', left: 0, top: y, width: 1690, height: h, background: color }} />;

const PricePane = () => (
  <ComposedChart width={WIDTH} height={613} data={candles} margin={{ top: 0, right: 0, bottom: 0, left: 0 }}>
    <CartesianGrid stroke={GRID} />
    <XAxis dataKey="i" type="number" domain={X_DOMAIN} ticks={timeTicks} allowDataOverflow hide />
    <YAxis orientation="right" width={AXIS_W} scale="log" domain={[12.63, 107.2]} ticks={priceTicks} allowDataOverflow axisLine={false} tickLine={false} interval={0} tick={axisStyle} tickFormatter={priceLabel} />
    <Area data={band(cloudPink)} dataKey={(d: any) => [d.lo, d.hi]} fill="#ff00ff" fillOpacity={0.06} stroke="none" isAnimationActive={false} />
    <Area data={band(cloudPinkEnd)} dataKey={(d: any) => [d.lo, d.hi]} fill="#ff00ff" fillOpacity={0.06} stroke="none" isAnimationActive={false} />
    <Area data={band(cloudGreen)} dataKey={(d: any) => [d.lo, d.hi]} fill="#00c000" fillOpacity={0.06} stroke="none" isAnimationActive={false} />
    <Line dataKey="lagging" stroke="#c4c4c4" strokeWidth={1} dot={false} connectNulls={false} isAnimationActive={false} />
    {thinLines.map(([list, color, w], k) => (
      <Line key={k} data={pts(list)} dataKey="p" stroke={color} strokeWidth={w} dot={false} isAnimationActive={false} />
    ))}
    <ReferenceLine y={63.55485} stroke="#4caf50" strokeWidth={1.6} />
    <ReferenceLine y={25.87267} stroke="#4caf50" strokeWidth={1.6} />
    <ReferenceLine y={71.98658} stroke="#131722" strokeDasharray="1 2" />
    <Bar dataKey={(d: any) => [d.low, d.high]} barSize={5} shape={CandleShape} isAnimationActive={false} />
    <Line dataKey="close" stroke="#3d9b6a" strokeWidth={1.3} dot={false} isAnimationActive={false} />
    {priceMarks.map(([list, shape], k) => (
      <Scatter key={k} data={pts(list)} dataKey="p" shape={shape} isAnimationActive={false} />
    ))}
    <ReferenceLine ifOverflow="hidden" segment={grayLine.map((d) => ({ x: d[0], y: d[1] }))} stroke="#b5b5b5" strokeWidth={2.6} />
    {fadedLines.map((l, k) => (
      <ReferenceLine key={k} ifOverflow="hidden" segment={l.map((d) => ({ x: d[0], y: d[1] }))} stroke="#e2e2e2" strokeWidth={2.6} />
    ))}
    <ReferenceLine ifOverflow="hidden" segment={blueBand.map((d) => ({ x: d[0], y: d[1] }))} stroke="#9cc0f8" strokeWidth={5} />
    {redArrows.map((a, k) => (
      <ReferenceLine key={k} ifOverflow="hidden" segment={a.map((d) => ({ x: d[0], y: d[1] }))}
        shape={arrowShape(RED, [76, 27, 24, 32, 52][k], [92, 34, 30, 37, 72][k], [47, 14, 14, 16, 30][k], [6, 2, 3, 3, 16][k])} />
    ))}
    {yellowArrows.map((a, k) => (
      <ReferenceLine key={k} ifOverflow="hidden" segment={a.map((d) => ({ x: d[0], y: d[1] }))} shape={arrowShape('#ffeb3b', 24, 29, 10, 3)} />
    ))}
    {greenArrows.map((a, k) => (
      <ReferenceLine key={k} ifOverflow="hidden" segment={a.map((d) => ({ x: d[0], y: d[1] }))} shape={arrowShape('#4caf50', 64, 78, 40, 4)} />
    ))}
    <ReferenceLine ifOverflow="hidden" segment={trendLine.map((d) => ({ x: d[0], y: d[1] }))} stroke="#1f4fd0" strokeWidth={4} />
    <Line data={pts(bigRedLoop)} dataKey="p" type="basis" stroke={RED} strokeWidth={3.6} dot={false} strokeLinecap="round" isAnimationActive={false} />
    <Line data={pts(leftRedLoop)} dataKey="p" type="basis" stroke={RED} strokeWidth={3.6} dot={false} strokeLinecap="round" isAnimationActive={false} />
    <Line data={pts(handLine)} dataKey="p" stroke={RED} strokeWidth={2.6} dot={false} isAnimationActive={false} />
    {noteGroups.map(([list, shape], k) => (
      <Scatter key={k} data={notes(list)} dataKey="p" shape={shape} isAnimationActive={false} />
    ))}
  </ComposedChart>
);

const MacdPane = () => (
  <ComposedChart width={WIDTH} height={86} data={histRows} margin={{ top: 0, right: 0, bottom: 0, left: 0 }}>
    <CartesianGrid stroke={GRID} horizontal={false} />
    <XAxis dataKey="i" type="number" domain={X_DOMAIN} ticks={timeTicks} allowDataOverflow hide />
    <YAxis orientation="right" width={AXIS_W} domain={[-125, 133]} ticks={[0]} interval={0} allowDataOverflow axisLine={false} tickLine={false} tick={axisStyle} tickFormatter={() => '0,00'} />
    <ReferenceLine y={0} stroke="#b8b8b8" strokeDasharray="5 4" />
    <Bar dataKey="v" barSize={6.6} shape={HistShape} isAnimationActive={false} />
    <Line data={pts(macdSignal)} dataKey="p" stroke="#ff6d00" strokeWidth={1.2} dot={false} isAnimationActive={false} />
    <Line data={pts(macdLine)} dataKey="p" stroke="#2962ff" strokeWidth={1.2} dot={false} isAnimationActive={false} />
    {macdRedLoops.map((l, k) => (
      <Line key={k} data={pts(l)} dataKey="p" type="basis" stroke={RED} strokeWidth={3.6} dot={false} strokeLinecap="round" isAnimationActive={false} />
    ))}
  </ComposedChart>
);

const StatusPane = () => (
  <ComposedChart width={WIDTH} height={47} margin={{ top: 0, right: 0, bottom: 0, left: 0 }}>
    <CartesianGrid stroke={GRID} horizontal={false} />
    <XAxis dataKey="i" type="number" domain={X_DOMAIN} ticks={timeTicks} allowDataOverflow hide />
    <YAxis orientation="right" width={AXIS_W} domain={[0.655, 3.9]} ticks={[3.62]} interval={0} allowDataOverflow axisLine={false} tickLine={false} tick={axisStyle} tickFormatter={() => '0,00'} />
    {[statusRuns, momentumRuns, trendRuns3].map((runs, k) => (
      <Scatter key={k} data={expandRuns(runs).map((d) => ({ ...d, y: 3 - k }))} dataKey="y" shape={rowShape(5.2)} isAnimationActive={false} />
    ))}
  </ComposedChart>
);

const DnaPane = () => (
  <ComposedChart width={WIDTH} height={80} margin={{ top: 0, right: 0, bottom: 0, left: 0 }}>
    <CartesianGrid stroke={GRID} horizontal={false} />
    <XAxis dataKey="i" type="number" domain={X_DOMAIN} ticks={timeTicks} allowDataOverflow hide />
    <YAxis orientation="right" width={AXIS_W} domain={[-4.96, 5.48]} ticks={[5, 0]} interval={0} allowDataOverflow axisLine={false} tickLine={false} tick={axisStyle} tickFormatter={(v: number) => (v === 5 ? '5,00' : '0,00')} />
    {dnaLevels.map(([level, color]) => (
      <ReferenceLine key={level} y={level} stroke={color} strokeDasharray={level === 0 ? undefined : '4 3'} />
    ))}
    {dnaMarks.map(([list, shape], k) => (
      <Scatter key={k} data={pts(list)} dataKey="p" shape={shape} isAnimationActive={false} />
    ))}
    {dnaRedLoops.map((l, k) => (
      <Line key={'r' + k} data={pts(l)} dataKey="p" type="basis" stroke={RED} strokeWidth={3} dot={false} strokeLinecap="round" isAnimationActive={false} />
    ))}
    {dnaBlueLoops.map((l, k) => (
      <Line key={'b' + k} data={pts(l)} dataKey="p" type="basis" stroke="#2962e8" strokeWidth={3} dot={false} strokeLinecap="round" isAnimationActive={false} />
    ))}
    {dnaGreenLoops.map((l, k) => (
      <Line key={'g' + k} data={pts(l)} dataKey="p" type="basis" stroke="#4caf50" strokeWidth={3} dot={false} strokeLinecap="round" isAnimationActive={false} />
    ))}
  </ComposedChart>
);

const BigPointPane = () => (
  <ComposedChart width={WIDTH} height={30} margin={{ top: 0, right: 0, bottom: 0, left: 0 }}>
    <CartesianGrid stroke={GRID} horizontal={false} />
    <XAxis dataKey="i" type="number" domain={X_DOMAIN} ticks={timeTicks} allowDataOverflow hide />
    <YAxis orientation="right" width={AXIS_W} domain={[-11, 19]} ticks={[]} allowDataOverflow axisLine={false} tickLine={false} />
    <Scatter data={expandRuns(bigPointRuns).map((d) => ({ ...d, y: 0 }))} dataKey="y" shape={bigPointShape} isAnimationActive={false} />
  </ComposedChart>
);

const LowerPane = () => (
  <ComposedChart width={WIDTH} height={125} margin={{ top: 0, right: 0, bottom: 0, left: 0 }}>
    <CartesianGrid stroke={GRID} />
    <XAxis dataKey="i" type="number" domain={X_DOMAIN} ticks={timeTicks} allowDataOverflow height={27} axisLine={false} tickLine={false} interval={0} tick={TimeTick} />
    <YAxis orientation="right" width={AXIS_W} domain={[5.615, 13.15]} ticks={[12, 8]} interval={0} allowDataOverflow axisLine={false} tickLine={false} tick={axisStyle} tickFormatter={(v: number) => `${v},00`} />
    {[lowerRow1, candleColorRuns, lowerRow3, lowerRow4, lowerRow5, lowerRow6].map((runs, k) => (
      <Scatter key={k} data={expandRuns(runs).map((d) => ({ ...d, y: 11.5 - k }))} dataKey="y" shape={rowShape(5.3)} isAnimationActive={false} />
    ))}
  </ComposedChart>
);

const Header = () => (
  <div style={{ position: 'absolute', left: 0, top: 0, width: 1690, height: 60, fontFamily: FONT, color: '#131722' }}>
    <svg width={26} height={26} style={{ position: 'absolute', left: 9, top: 8 }}>
      <circle cx={12} cy={12.5} r={11} fill="#f7931a" />
      <text x={12} y={18} textAnchor="middle" fontSize={15} fontWeight={700} fill="#fff" fontFamily={FONT}>₿</text>
    </svg>
    <div style={{ position: 'absolute', left: 38, top: 8, fontSize: 19.2, whiteSpace: 'nowrap' }}>Bitcoin / Dollar · 1W · Coinbase</div>
    <svg width={26} height={26} style={{ position: 'absolute', left: 321, top: 8 }}>
      <circle cx={13} cy={12.5} r={11} fill="#d5efe9" />
      <circle cx={13} cy={12.5} r={5} fill="#00695c" />
    </svg>
    {[[355, 'O', '69.005,00'], [447, 'H', '72.753,97'], [538, 'L', '67.710,01'], [627, 'C', '71.986,58'], [717, '', '+2.981,58 (+4,32%)'], [862, '', '+76,37 (+0,11%)']].map(([x, k, v]: any) => (
      <div key={x} style={{ position: 'absolute', left: x, top: 10, fontSize: 15.6, whiteSpace: 'nowrap' }}>
        <span>{k}</span><span style={{ color: '#089981' }}>{v}</span>
      </div>
    ))}
    <div style={{ position: 'absolute', left: 10, top: 39, width: 38, height: 25, border: '1px solid #e0e3eb', borderRadius: 4, background: '#fff', fontSize: 14.5, lineHeight: '25px', textAlign: 'center', boxSizing: 'border-box' }}>⌄ 5</div>
    <div style={{ position: 'absolute', left: 70, top: 40, width: 25, height: 23, background: '#f8dfe1', borderRadius: '12px 0 0 12px', color: '#b71c1c', fontSize: 16, fontWeight: 700, lineHeight: '23px', textAlign: 'center' }}>!</div>
    <div style={{ position: 'absolute', left: 95, top: 40, width: 25, height: 23, background: '#e6e0f5', borderRadius: '0 12px 12px 0', color: '#651fff', fontSize: 16, lineHeight: '23px', textAlign: 'center' }}>⟳</div>
  </div>
);

const Tag = ({ y, h, bg, lines }: any) => (
  <div style={{ position: 'absolute', left: 1691, top: y, width: 83, height: h, background: bg, color: '#fff', fontFamily: FONT, fontSize: 14.2, textAlign: 'center', borderRadius: '0 3px 3px 0', lineHeight: `${h / lines.length}px` }}>
    {lines.map((t: string, k: number) => (
      <div key={k} style={{ opacity: k ? 0.75 : 1 }}>{t}</div>
    ))}
  </div>
);

const TvLogo = () => (
  <svg width={46} height={24} style={{ position: 'absolute', left: 11, top: 917 }}>
    <path d="M1 3H20V20H12V10H1Z" fill="#000" stroke="#fff" strokeWidth={1.5} />
    <circle cx={27} cy={7} r={3.6} fill="#000" stroke="#fff" strokeWidth={1} />
    <path d="M33 3H45L36 20H25Z" fill="#000" stroke="#fff" strokeWidth={1.5} />
  </svg>
);

const App: React.FC = () => (
  <div style={{ position: 'fixed', left: 0, top: 0, width: WIDTH, height: 985, background: '#fff', overflow: 'hidden' }}>
    <div style={paneStyle(0, 613)}><PricePane /></div>
    <Hairline y={613} h={1} />
    <div style={paneStyle(614, 86)}>
      <MacdPane />
      <div style={{ position: 'absolute', left: 10, top: 12, width: 36, height: 25, border: '1px solid #e0e3eb', borderRadius: 4, background: '#fff', fontSize: 14, lineHeight: '22px', textAlign: 'center', boxSizing: 'border-box', fontFamily: FONT, color: '#131722' }}>⌄</div>
      <div style={{ position: 'absolute', left: 66, top: 11, width: 23, height: 27, borderRadius: 12, background: '#e6e0f5', color: '#651fff', fontSize: 16, lineHeight: '27px', textAlign: 'center', fontFamily: FONT }}>⟳</div>
    </div>
    <Hairline y={700} h={2} />
    <div style={paneStyle(701, 47)}>
      <StatusPane />
      {overlayText(-2, 'Momentum Status Indikator')}
    </div>
    <Hairline y={748} />
    <div style={paneStyle(749, 80)}>
      <DnaPane />
      {overlayText(0, 'ICE DNA Code')}
    </div>
    <Hairline y={829} />
    <div style={paneStyle(830, 30)}>
      <BigPointPane />
      {overlayText(4, 'ICE Trading Deluxe Big Point')}
    </div>
    <div style={paneStyle(860, 125)}>
      <LowerPane />
      {overlayText(7, 'Von oben: Status / Kerzenfarbe / Wolkenfarbe / Trend / Setter / Welle')}
    </div>
    <TvLogo />
    <Header />
    <Tag y={105} h={38} bg="#000000" lines={['71.986,58', '4d 12h']} />
    <Tag y={144} h={21} bg="#4caf50" lines={['63.554,85']} />
    <Tag y={397} h={21} bg="#4caf50" lines={['25.872,67']} />
    <svg width={40} height={70} style={{ position: 'absolute', left: 1625, top: 550 }}>
      <circle cx={15} cy={15} r={12} fill="#fff" stroke="#9c27b0" strokeWidth={1.6} />
      <path d="M17 8L11 16H15L13 22L20 13H16Z" fill="#9c27b0" />
      <circle cx={23} cy={6} r={3} fill={RED} />
      <circle cx={22} cy={47} r={12} fill="#fff" stroke={RED} strokeWidth={2} />
      <circle cx={15} cy={47} r={12} fill="#fff" stroke={RED} strokeWidth={2} />
      <path d="M6 45H24M8 51H22" stroke={RED} strokeWidth={3} />
      <rect x={7} y={39} width={9} height={8} fill="#2196f3" />
    </svg>
    <svg width={22} height={22} style={{ position: 'absolute', left: 1729, top: 965 }}>
      <path d="M6 3H15L20 11L15 19H6L1 11Z" fill="none" stroke="#131722" strokeWidth={1.4} />
      <circle cx={10.5} cy={11} r={2.6} fill="none" stroke="#131722" strokeWidth={1.4} />
    </svg>
    <div style={{ position: 'absolute', left: 0, top: 0, width: WIDTH, height: 2, background: '#2a2e39' }} />
    <div style={{ position: 'absolute', left: 0, top: 0, width: 1, height: 985, background: '#2a2e39' }} />
  </div>
);

export default App;
